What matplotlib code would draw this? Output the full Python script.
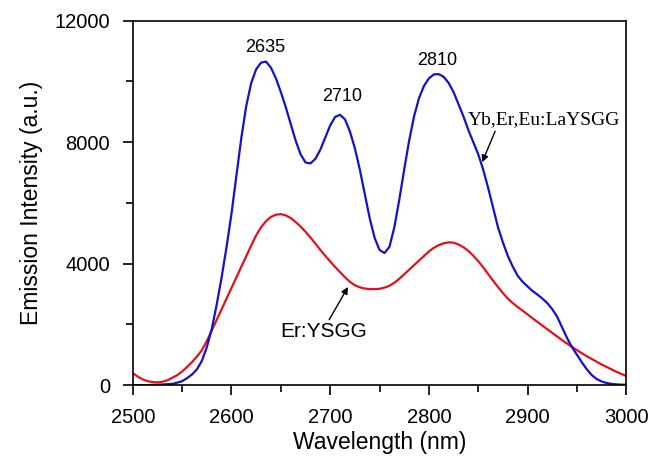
import matplotlib
matplotlib.use("Agg")
import matplotlib.pyplot as plt
from matplotlib.ticker import MultipleLocator

plt.rcParams['font.family'] = ['Liberation Sans', 'DejaVu Sans']

# wavelength grid (nm), 5 nm steps
wavelength = list(range(2500, 3001, 5))

# Yb,Er,Eu:LaYSGG (blue)
laysgg = [0, 0, 0, 0, 5, 10, 20, 30, 40, 80,
          130, 230, 350, 520, 800, 1250, 1850, 2650, 3550, 4550,
          5650, 6900, 8150, 9200, 9950, 10400, 10620, 10650, 10450, 10100,
          9650, 9150, 8600, 8050, 7600, 7330, 7300, 7450, 7750, 8150,
          8550, 8830, 8900, 8750, 8350, 7800, 7100, 6300, 5500, 4850,
          4450, 4350, 4550, 5200, 6100, 7100, 8050, 8850, 9450, 9850,
          10100, 10230, 10240, 10150, 9950, 9650, 9250, 8850, 8400, 8000,
          7600, 7100, 6500, 5850, 5200, 4700, 4250, 3900, 3600, 3400,
          3250, 3100, 2980, 2850, 2700, 2500, 2250, 1900, 1550, 1250,
          1000, 750, 520, 330, 200, 120, 70, 40, 25, 15,
          10]

# Er:YSGG (red)
ysgg = [390, 280, 190, 130, 100, 90, 110, 160, 240, 330,
        450, 600, 760, 940, 1150, 1450, 1800, 2150, 2500, 2850,
        3200, 3550, 3900, 4250, 4600, 4930, 5200, 5400, 5540, 5610,
        5630, 5590, 5500, 5370, 5220, 5050, 4860, 4660, 4450, 4260,
        4070, 3890, 3720, 3550, 3400, 3290, 3220, 3180, 3160, 3160,
        3170, 3210, 3270, 3370, 3500, 3650, 3800, 3950, 4100, 4250,
        4400, 4520, 4610, 4670, 4700, 4690, 4630, 4540, 4420, 4260,
        4080, 3880, 3660, 3440, 3230, 3030, 2850, 2700, 2570, 2450,
        2330, 2200, 2080, 1960, 1840, 1720, 1600, 1480, 1370, 1260,
        1150, 1050, 950, 860, 770, 680, 600, 520, 440, 370,
        300]

peak_labels = ['2635', '2710', '2810']
peak_x = [2634, 2712, 2808]
peak_y = [11130, 9490, 10700]

fig, ax = plt.subplots(figsize=(6.51, 4.59), dpi=100)
fig.subplots_adjust(left=0.204, right=0.962, bottom=0.161, top=0.955)

ax.plot(wavelength, ysgg, color='#e4101c', lw=1.6)
ax.plot(wavelength, laysgg, color='#1212c8', lw=1.6)

ax.set_xlim(2500, 3000)
ax.set_ylim(0, 12000)
ax.xaxis.set_major_locator(MultipleLocator(100))
ax.xaxis.set_minor_locator(MultipleLocator(50))
ax.yaxis.set_major_locator(MultipleLocator(4000))
ax.yaxis.set_minor_locator(MultipleLocator(2000))
ax.tick_params(which='major', direction='out', length=7, width=1.2,
               labelsize=14.5, pad=9.5)
ax.tick_params(which='minor', direction='out', length=5, width=1.2)
for s in ax.spines.values():
    s.set_linewidth(1.2)

ax.set_xlabel('Wavelength (nm)', fontsize=16.5, labelpad=3)
ax.set_ylabel('Emission Intensity (a.u.)', fontsize=16.5, labelpad=8)

for lab, px, py in zip(peak_labels, peak_x, peak_y):
    ax.text(px, py, lab, ha='center', va='center', fontsize=13)

ax.annotate('Yb,Er,Eu:LaYSGG', xy=(2854, 7340), xytext=(2839, 8730),
            fontsize=14, family='Liberation Serif', va='center', ha='left',
            arrowprops=dict(arrowstyle='-|>', color='black', lw=1,
                            shrinkA=0, shrinkB=0,
                            relpos=(0.19, 0.0), mutation_scale=10))
ax.annotate('Er:YSGG', xy=(2718, 3230), xytext=(2693, 1750),
            fontsize=15, va='center', ha='center',
            arrowprops=dict(arrowstyle='-|>', color='black', lw=1,
                            shrinkA=0, shrinkB=0,
                            relpos=(0.55, 1.0), mutation_scale=10))

fig.savefig('out.png', dpi=100)
